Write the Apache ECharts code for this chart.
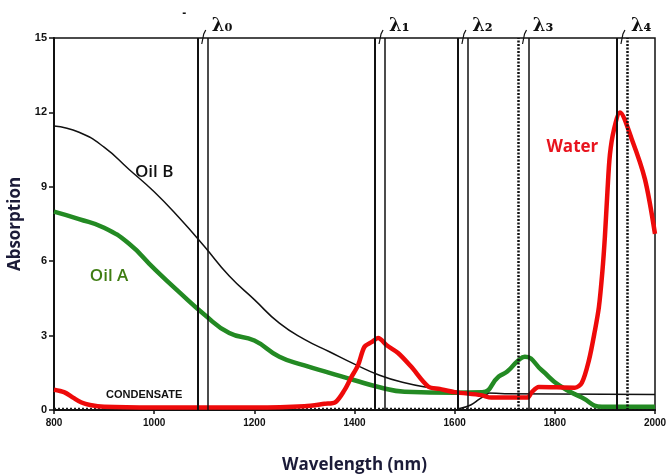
<!DOCTYPE html>
<html lang="en">
<head>
    <meta charset="UTF-8">
    <title>Absorption spectra</title>
    <script src="https://cdn.jsdelivr.net/npm/echarts@6/dist/echarts.min.js"></script>
    <style>
        html, body { margin: 0; padding: 0; background: #fff; }
        #chart { width: 667px; height: 475px; }
    </style>
</head>
<body>
<div id="chart"></div>
<script>
    // values: [wavelength nm, absorption]
    const oilB = [[800, 11.45], [850, 11.2], [900, 10.6], [950, 9.7], [1000, 8.8], [1050, 7.75], [1100, 6.6],
        [1150, 5.4], [1200, 4.45], [1250, 3.5], [1300, 2.85], [1350, 2.35], [1400, 1.85], [1450, 1.4],
        [1500, 1.1], [1550, 0.9], [1600, 0.76], [1650, 0.7], [1700, 0.66], [2000, 0.62]];
    const oilA = [[800, 8.0], [850, 7.7], [900, 7.35], [950, 6.7], [1000, 5.7], [1050, 4.75], [1100, 3.85],
        [1150, 3.1], [1200, 2.8], [1250, 2.15], [1300, 1.8], [1350, 1.5], [1400, 1.2], [1450, 0.92],
        [1500, 0.74], [1600, 0.7], [1655, 0.72], [1688, 1.35], [1705, 1.55], [1727, 2.0], [1740, 2.15],
        [1774, 1.6], [1808, 1.0], [1854, 0.5], [1894, 0.13], [2000, 0.13]];
    const water = [[800, 0.82], [820, 0.72], [838, 0.5], [855, 0.3], [872, 0.2], [900, 0.13], [1000, 0.1],
        [1100, 0.1], [1200, 0.1], [1300, 0.15], [1340, 0.25], [1362, 0.32], [1380, 0.8], [1393, 1.3],
        [1407, 1.8], [1420, 2.55], [1435, 2.75], [1447, 2.9], [1465, 2.6], [1487, 2.3], [1513, 1.75],
        [1547, 0.95], [1570, 0.85], [1600, 0.72], [1653, 0.6], [1673, 0.5], [1745, 0.5], [1754, 0.72],
        [1768, 0.93], [1840, 0.9], [1854, 1.1], [1868, 2.0], [1880, 3.2], [1888, 4.15], [1895, 5.6],
        [1900, 7.0], [1905, 8.8], [1910, 10.3], [1918, 11.3], [1930, 12.0], [1954, 10.9], [1980, 9.3],
        [2000, 7.1]];
    const condensate = [[800, 0.06], [2000, 0.06]];
    const condensateRise = [[1610, 0.06], [1632, 0.2], [1650, 0.45], [1668, 0.68]];

    const lambdaNames = ['λ₀', 'λ₁', 'λ₂', 'λ₃', 'λ₄'];
    const lambdaLeft = [1087, 1441, 1606, 1727, 1924];
    const lambdaRight = [1107, 1461, 1627, 1748, 1944];
    const leftStyle = ['solid', 'solid', 'solid', 'dotted', 'solid'];
    const rightStyle = ['solid', 'solid', 'solid', 'solid', 'dotted'];

    const xTicks = [800, 1000, 1200, 1400, 1600, 1800, 2000];
    const yTicks = [0, 3, 6, 9, 12, 15];

    let myChart = echarts.init(document.getElementById('chart'));

    let vLines = [];
    lambdaLeft.forEach(function (x, i) {
        vLines.push({
            xAxis: x,
            lineStyle: {
                color: '#111', type: leftStyle[i] === 'dotted' ? [2, 1.5] : 'solid',
                width: leftStyle[i] === 'dotted' ? 2.5 : 2
            }
        });
        vLines.push({
            xAxis: lambdaRight[i],
            lineStyle: {
                color: '#111', type: rightStyle[i] === 'dotted' ? [2, 1.5] : 'solid',
                width: rightStyle[i] === 'dotted' ? 2.5 : 1.5
            }
        });
    });

    let option = {
        animation: false,
        grid: {
            left: 54,
            right: 12,
            top: 38,
            bottom: 65,
            outerBoundsMode: 'none',
            containLabel: false,
            show: true,
            borderColor: '#111',
            borderWidth: 1.5
        },
        xAxis: {
            type: 'value',
            min: xTicks[0],
            max: xTicks[xTicks.length - 1],
            interval: 200,
            name: 'Wavelength (nm)',
            nameLocation: 'middle',
            nameGap: 47,
            nameTextStyle: {
                fontFamily: 'Open Sans',
                fontWeight: 'bold',
                fontSize: 17,
                color: '#1b1b38'
            },
            axisLine: {lineStyle: {color: '#111', width: 2}},
            axisTick: {show: true, length: 4, lineStyle: {color: '#111', width: 1.5}},
            axisLabel: {
                color: '#111',
                fontFamily: 'Liberation Sans',
                fontWeight: 'bold',
                fontSize: 10,
                margin: 8,
                formatter: function (v) { return String(v); }
            },
            splitLine: {show: false}
        },
        yAxis: {
            type: 'value',
            min: yTicks[0],
            max: yTicks[yTicks.length - 1],
            interval: 3,
            name: 'Absorption',
            nameLocation: 'middle',
            nameGap: 26,
            nameTextStyle: {
                fontFamily: 'Open Sans',
                fontWeight: 'bold',
                fontSize: 17,
                color: '#1b1b38'
            },
            axisLine: {lineStyle: {color: '#111', width: 2}},
            axisTick: {show: true, length: 5, lineStyle: {color: '#111', width: 1.5}},
            axisLabel: {
                color: '#111',
                fontFamily: 'Liberation Sans',
                fontWeight: 'bold',
                fontSize: 11,
                margin: 7
            },
            splitLine: {show: false}
        },
        series: [
            {
                name: 'Condensate',
                type: 'line',
                data: condensate,
                symbol: 'none',
                lineStyle: {color: '#222', width: 1.5, type: [2, 2]},
                markLine: {
                    silent: true,
                    symbol: 'none',
                    label: {show: false},
                    data: vLines
                }
            },
            {
                name: 'CondensateRise',
                type: 'line',
                data: condensateRise,
                symbol: 'none',
                smooth: true,
                lineStyle: {color: '#111', width: 1.5}
            },
            {
                name: 'Oil B',
                type: 'line',
                data: oilB,
                symbol: 'none',
                smooth: true,
                lineStyle: {color: '#111', width: 1.5}
            },
            {
                name: 'Oil A',
                type: 'line',
                data: oilA,
                symbol: 'none',
                smooth: true,
                lineStyle: {color: '#238a23', width: 4.5}
            },
            {
                name: 'Water',
                type: 'line',
                data: water,
                symbol: 'none',
                smooth: 0.3,
                lineStyle: {color: '#ee0a0a', width: 4.5}
            }
        ]
    };
    myChart.setOption(option);

    // annotations placed from data coordinates
    function px(x, y) {
        return myChart.convertToPixel({gridIndex: 0}, [x, y]);
    }

    let graphics = [];
    lambdaRight.forEach(function (x, i) {
        let p = px(x, 15);
        graphics.push({
            type: 'text',
            x: p[0] + 4,
            y: p[1] - 3,
            style: {
                text: lambdaNames[i],
                font: 'bold 18px "DejaVu Serif"',
                fill: '#111',
                textVerticalAlign: 'bottom'
            }
        });
        let q = px(lambdaLeft[i], 15);
        let mid = (q[0] + p[0]) / 2;
        graphics.push({
            type: 'polyline',
            shape: {points: [[mid - 1, p[1] + 6], [mid + 1, p[1] - 4], [mid + 3, p[1] - 8]]},
            style: {stroke: '#111', lineWidth: 1.2, fill: null}
        });
    });

    let dash = px(1060, 15);
    graphics.push({
        type: 'text', x: dash[0] - 2, y: dash[1] - 30,
        style: {text: '-', font: 'bold 12px "Liberation Sans"', fill: '#111'}
    });

    let b = px(1000, 9.6);
    graphics.push({
        type: 'text', x: b[0], y: b[1],
        style: {text: 'Oil B', font: '600 17px "Open Sans"', fill: '#111',
            textAlign: 'center', textVerticalAlign: 'middle'}
    });
    let a = px(910, 5.4);
    graphics.push({
        type: 'text', x: a[0], y: a[1],
        style: {text: 'Oil A', font: '600 17px "Open Sans"', fill: '#3f7d12',
            textAlign: 'center', textVerticalAlign: 'middle'}
    });
    let w = px(1835, 10.6);
    graphics.push({
        type: 'text', x: w[0], y: w[1],
        style: {text: 'Water', font: 'bold 17px "Open Sans"', fill: '#e8141e',
            textAlign: 'center', textVerticalAlign: 'middle'}
    });
    let c = px(980, 0.6);
    graphics.push({
        type: 'text', x: c[0], y: c[1],
        style: {text: 'CONDENSATE', font: 'bold 11px "Liberation Sans"', fill: '#111',
            textAlign: 'center', textVerticalAlign: 'middle'}
    });

    myChart.setOption({graphic: graphics});
</script>
</body>
</html>
